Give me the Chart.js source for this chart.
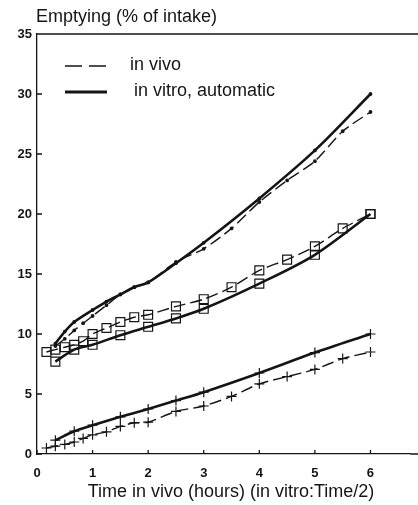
<!DOCTYPE html>
<html>
<head>
<meta charset="utf-8">
<script src="https://cdn.jsdelivr.net/npm/chart.js@4/dist/chart.umd.min.js"></script>
<style>
  html, body { margin: 0; padding: 0; background: #fff; overflow: hidden; }
  canvas { display: block; }
</style>
</head>
<body>
<canvas id="chart" width="418" height="505"></canvas>
<script>
// DATA (time in hours, emptying in % of intake)
const xTicks = [0, 1, 2, 3, 4, 5, 6];
const yTicks = [0, 5, 10, 15, 20, 25, 30, 35];

// top pair (small dots)
const topVivoT   = [0.33, 0.5, 0.67, 0.83, 1, 1.25, 1.5, 1.75, 2, 2.5, 3, 3.5, 4, 4.5, 5, 5.5, 6];
const topVivoV   = [9.0, 9.6, 10.3, 10.9, 11.5, 12.4, 13.3, 13.9, 14.3, 16.0, 17.1, 18.8, 21.0, 22.8, 24.4, 26.9, 28.5];
const topVitroT  = [0.33, 0.5, 0.67, 1, 1.25, 1.5, 1.75, 2, 2.5, 3, 4, 5, 6];
const topVitroV  = [9.2, 10.2, 11.0, 12.0, 12.7, 13.3, 13.9, 14.3, 15.9, 17.6, 21.3, 25.3, 30.0];

// middle pair (open squares)
const midVivoT   = [0.17, 0.33, 0.5, 0.67, 0.83, 1, 1.25, 1.5, 1.75, 2, 2.5, 3, 3.5, 4, 4.5, 5, 5.5, 6];
const midVivoV   = [8.5, 8.7, 8.9, 9.1, 9.4, 10.0, 10.5, 11.0, 11.4, 11.6, 12.3, 12.9, 13.9, 15.3, 16.2, 17.3, 18.8, 20.0];
const midVitroT  = [0.33, 0.67, 1, 1.5, 2, 2.5, 3, 4, 5, 6];
const midVitroV  = [7.7, 8.7, 9.1, 9.9, 10.6, 11.3, 12.1, 14.2, 16.6, 20.0];

// bottom pair (crosses)
const lowVivoT   = [0.17, 0.33, 0.5, 0.67, 0.83, 1, 1.25, 1.5, 1.75, 2, 2.5, 3, 3.5, 4, 4.5, 5, 5.5, 6];
const lowVivoV   = [0.5, 0.65, 0.8, 1.0, 1.3, 1.6, 1.85, 2.3, 2.6, 2.65, 3.55, 4.0, 4.8, 5.85, 6.45, 7.05, 7.95, 8.5];
const lowVitroT  = [0.33, 0.67, 1, 1.5, 2, 2.5, 3, 4, 5, 6];
const lowVitroV  = [1.15, 1.9, 2.4, 3.1, 3.75, 4.45, 5.15, 6.75, 8.45, 10.0];

const legendLabels = ["in vivo", "in vitro, automatic"];
const yTitle = "Emptying (% of intake)";
const xTitle = "Time in vivo (hours) (in vitro:Time/2)";

const INK = "#151515";
const FONT = "'Liberation Sans', Arial, Helvetica, sans-serif";

function pts(ts, vs) { return ts.map((t, i) => ({ x: t, y: vs[i] })); }

function vivo(ts, vs, style, r) {
  return {
    data: pts(ts, vs), borderColor: INK, backgroundColor: style === "circle" ? INK : "transparent",
    borderWidth: 1.4, borderDash: [12, 5], tension: 0.25,
    pointStyle: style, pointRadius: r, pointBorderWidth: 1.2, pointBorderColor: INK
  };
}
function vitro(ts, vs, style, r) {
  return {
    data: pts(ts, vs), borderColor: INK, backgroundColor: style === "circle" ? INK : "transparent",
    borderWidth: 2.6, tension: 0.3,
    pointStyle: style, pointRadius: r, pointBorderWidth: 1.2, pointBorderColor: INK
  };
}

// frame to the right edge, inward ticks, titles and legend
const decor = {
  id: "decor",
  afterDraw(chart) {
    const { ctx, chartArea: a, scales: { x, y } } = chart;
    ctx.save();
    ctx.strokeStyle = INK;
    ctx.lineWidth = 1.3;
    ctx.beginPath();
    ctx.moveTo(a.left, a.top); ctx.lineTo(chart.width, a.top);
    ctx.moveTo(a.right, a.bottom); ctx.lineTo(chart.width, a.bottom);
    xTicks.forEach(t => {
      const px = x.getPixelForValue(t);
      ctx.moveTo(px, a.bottom); ctx.lineTo(px, a.bottom - 4);
    });
    yTicks.forEach(v => {
      const py = y.getPixelForValue(v);
      ctx.moveTo(a.left, py); ctx.lineTo(a.left + 5, py);
    });
    ctx.stroke();

    ctx.fillStyle = INK;
    ctx.font = "18px " + FONT;
    ctx.textBaseline = "middle";
    ctx.textAlign = "left";
    ctx.fillText(yTitle, 36, 17);

    ctx.textAlign = "center";
    ctx.fillText(xTitle, 231, 492);
    ctx.textAlign = "left";

    // legend
    ctx.lineWidth = 1.6;
    ctx.setLineDash([17, 7]);
    ctx.beginPath(); ctx.moveTo(65, 66); ctx.lineTo(107, 66); ctx.stroke();
    ctx.setLineDash([]);
    ctx.lineWidth = 2.8;
    ctx.beginPath(); ctx.moveTo(65, 92); ctx.lineTo(107, 92); ctx.stroke();
    ctx.fillText(legendLabels[0], 130, 65);
    ctx.fillText(legendLabels[1], 134, 91);
    ctx.restore();
  }
};

new Chart(document.getElementById("chart"), {
  type: "line",
  data: {
    datasets: [
      vivo(topVivoT, topVivoV, "circle", 1.3),
      vitro(topVitroT, topVitroV, "circle", 1.3),
      vivo(midVivoT, midVivoV, "rect", 6.3),
      vitro(midVitroT, midVitroV, "rect", 6.3),
      vivo(lowVivoT, lowVivoV, "cross", 5),
      vitro(lowVitroT, lowVitroV, "cross", 5)
    ]
  },
  options: {
    responsive: false,
    animation: false,
    layout: { padding: { top: 34, right: 0, left: 0, bottom: 0 } },
    plugins: { legend: { display: false }, tooltip: { enabled: false } },
    scales: {
      x: {
        type: "linear", min: 0, max: 6.72,
        grid: { display: false, drawTicks: false },
        border: { color: INK, width: 1.3 },
        afterFit(s) { s.height = 51; },
        ticks: {
          stepSize: 1, includeBounds: false, padding: 12, color: INK,
          font: { family: FONT, size: 13, weight: "bold" }
        }
      },
      y: {
        min: 0, max: 35,
        grid: { display: false, drawTicks: false },
        border: { color: INK, width: 1.3 },
        afterFit(s) { s.width = 37; },
        ticks: {
          stepSize: 5, padding: 5, color: INK,
          font: { family: FONT, size: 13, weight: "bold" }
        }
      }
    }
  },
  plugins: [decor]
});
</script>
</body>
</html>
